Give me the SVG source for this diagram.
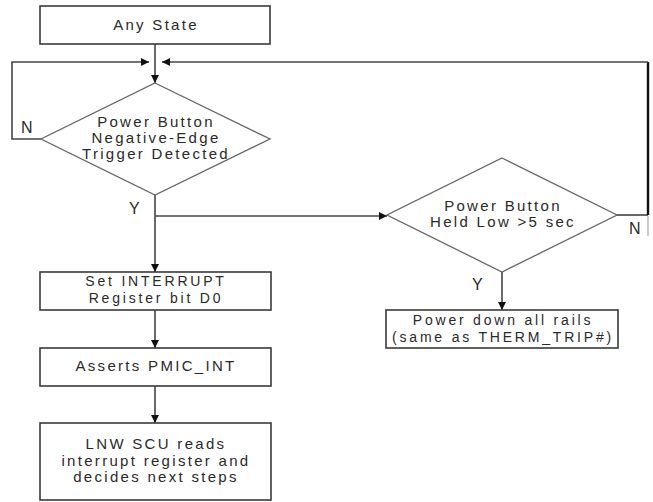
<svg xmlns="http://www.w3.org/2000/svg" width="653" height="502" viewBox="0 0 653 502">
<style>
  .box { fill: #ffffff; stroke: #3a3a3a; stroke-width: 1.6; }
  .dia { fill: #ffffff; stroke: #666666; stroke-width: 1.3; }
  .t { font-family: "Liberation Sans", Arial, sans-serif; font-size: 15px; fill: #2a2a2a; text-anchor: middle; letter-spacing: 2.3px; }
  .t2 { font-family: "Liberation Sans", Arial, sans-serif; font-size: 14px; fill: #2a2a2a; text-anchor: middle; letter-spacing: 2.8px; }
  .lbl { font-family: "Liberation Sans", Arial, sans-serif; font-size: 16px; fill: #2a2a2a; }
  .c { fill: none; stroke: #444444; stroke-width: 1.6; }
  .ck { fill: none; stroke: #111111; stroke-width: 2.4; }
</style>
<defs>
  <marker id="ah" viewBox="0 0 10 10" refX="10" refY="5" markerWidth="10" markerHeight="8" markerUnits="userSpaceOnUse" orient="auto">
    <path d="M0,0 L10,5 L0,10 z" fill="#111111"/>
  </marker>
</defs>
<rect width="653" height="502" fill="#ffffff"/>

<g id="connectors">
  <path class="c" d="M155,44 V83" marker-end="url(#ah)"/>
  <path class="c" d="M41,139 H12 V62 H149" marker-end="url(#ah)"/>
  <path class="c" d="M617,215 H648"/>
  <path class="ck" d="M648,215 V62"/>
  <path class="c" d="M648,62 H162" marker-end="url(#ah)"/>
  <path d="M648,216 V236" stroke="#bbbbbb" stroke-width="1.5" fill="none"/>
  <path class="c" d="M155,195 V272" marker-end="url(#ah)"/>
  <path class="c" d="M155,216 H387" marker-end="url(#ah)"/>
  <path class="c" d="M502,272 V310" marker-end="url(#ah)"/>
  <path class="c" d="M155,310 V348" marker-end="url(#ah)"/>
  <path class="c" d="M155,386 V423" marker-end="url(#ah)"/>
  <text class="lbl" x="21" y="133">N</text>
  <text class="lbl" x="129" y="214">Y</text>
  <text class="lbl" x="472" y="290">Y</text>
  <text class="lbl" x="629" y="234">N</text>
</g>

<g id="any-state">
  <rect class="box" x="40" y="6" width="230" height="38"/>
  <text class="t" x="156" y="30">Any State</text>
</g>

<g id="decision-negedge">
  <polygon class="dia" points="155,83 270,139 155,195 41,139"/>
  <text class="t" x="156" y="127">Power Button</text>
  <text class="t" x="156" y="143">Negative-Edge</text>
  <text class="t" x="156" y="159">Trigger Detected</text>
</g>

<g id="decision-held">
  <polygon class="dia" points="502,158 617,215 502,272 387,215"/>
  <text class="t" x="503" y="211">Power Button</text>
  <text class="t" x="503" y="227">Held Low &gt;5 sec</text>
</g>

<g id="power-down">
  <rect class="box" x="386" y="310" width="232" height="38"/>
  <text class="t2" x="503" y="324.5">Power down all rails</text>
  <text class="t2" x="503" y="341.5">(same as THERM_TRIP#)</text>
</g>

<g id="set-interrupt">
  <rect class="box" x="40" y="272" width="231" height="38"/>
  <text class="t2" x="156" y="285.5">Set INTERRUPT</text>
  <text class="t2" x="156" y="302.5">Register bit D0</text>
</g>

<g id="asserts">
  <rect class="box" x="40" y="348" width="231" height="38"/>
  <text class="t" x="156" y="371">Asserts PMIC_INT</text>
</g>

<g id="lnw-scu">
  <rect class="box" x="40" y="423" width="231" height="77"/>
  <text class="t" x="156" y="449">LNW SCU reads</text>
  <text class="t" x="156" y="466">interrupt register and</text>
  <text class="t" x="156" y="482">decides next steps</text>
</g>
</svg>
